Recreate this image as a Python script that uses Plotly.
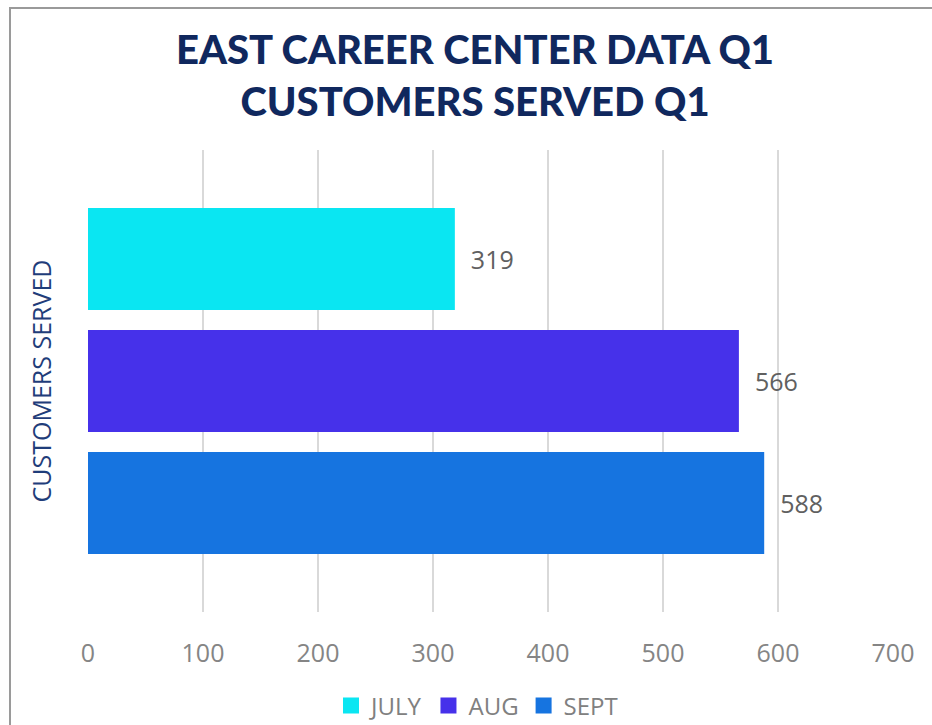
import plotly.graph_objects as go

# ---- data ----
categories = ["Q1"]
series_names = ["JULY", "AUG", "SEPT"]
series_values = [[319], [566], [588]]
series_colors = ["#0ae6f2", "#4631ea", "#1674e0"]
x_ticks = [0, 100, 200, 300, 400, 500, 600, 700]

title_text = "EAST CAREER CENTER DATA Q1<br>CUSTOMERS SERVED Q1"
y_title = "CUSTOMERS SERVED"

W, H = 932, 725
ML, MR, MT, MB = 88, 39, 150, 113
PW, PH = W - ML - MR, H - MT - MB


def px_x(p):
    return (p - ML) / PW


def px_y(p):
    return (H - MB - p) / PH


fig = go.Figure()
for name, vals, col in zip(series_names, series_values, series_colors):
    fig.add_trace(go.Bar(
        y=categories, x=vals, name=name, orientation="h",
        marker=dict(color=col, line=dict(width=0)),
        text=vals, texttemplate="\u00a0\u00a0%{x}", textposition="outside",
        textfont=dict(family="Open Sans", size=25, color="#606060"),
        cliponaxis=False, showlegend=False, legendgroup=name,
    ))
# legend entries with larger square swatches
for name, col in zip(series_names, series_colors):
    fig.add_trace(go.Scatter(
        x=[None], y=[None], mode="markers", name=name, legendgroup=name,
        marker=dict(symbol="square", size=16, color=col),
        hoverinfo="skip",
    ))

fig.update_layout(
    width=W, height=H,
    margin=dict(l=ML, r=MR, t=MT, b=MB, autoexpand=False),
    paper_bgcolor="white", plot_bgcolor="white",
    barmode="group", bargap=0.208, bargroupgap=0.164,
    title=dict(
        text=title_text, xref="container", x=475 / W, xanchor="center",
        yref="container", y=1 - 64 / H, yanchor="middle",
        font=dict(family="Lato", size=40, color="#10285e", weight=900),
    ),
    xaxis=dict(
        range=[0, 700], tickvals=x_ticks, showgrid=True,
        gridcolor="#d9d9d9", gridwidth=2, zeroline=False, showline=False,
        ticks="", ticklabelstandoff=24,
        tickfont=dict(family="Open Sans", size=25, color="#858585"),
    ),
    yaxis=dict(
        autorange="reversed", showticklabels=False, showgrid=False,
        zeroline=False, showline=False, ticks="",
        title=dict(text=y_title, standoff=28,
                   font=dict(family="Open Sans", size=25, color="#1f3d7a")),
    ),
    legend=dict(
        orientation="h", x=px_x(477), xanchor="center",
        y=px_y(706), yanchor="middle",
        font=dict(family="Open Sans", size=24, color="#808080"),
        itemclick=False, itemwidth=30, tracegroupgap=0,
    ),
    showlegend=True,
    shapes=[dict(
        type="rect", xref="paper", yref="paper",
        x0=px_x(10), x1=px_x(950), y0=px_y(745), y1=px_y(8),
        line=dict(color="#9a9a9a", width=2), fillcolor="rgba(0,0,0,0)",
        layer="below",
    )],
)

fig.write_html("out.html", config={"displayModeBar": False},
               post_script="document.body.style.margin='0';")
